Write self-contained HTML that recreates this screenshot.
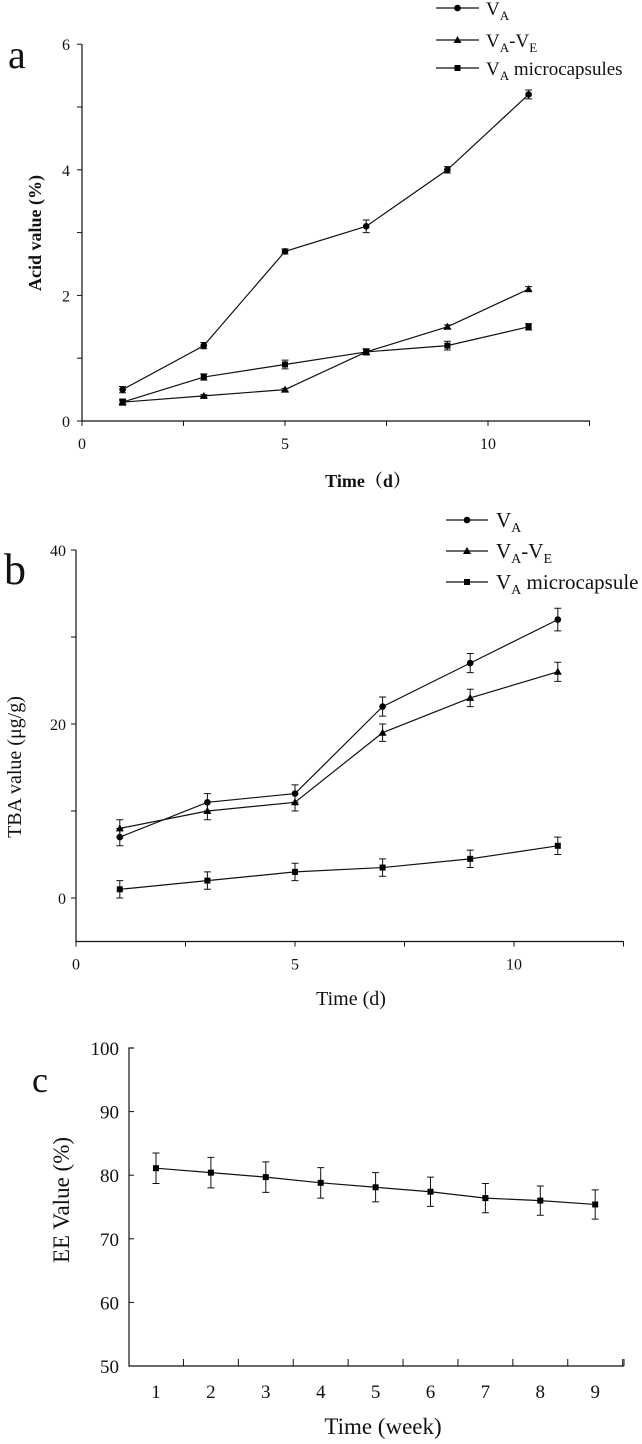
<!DOCTYPE html>
<html><head><meta charset="utf-8"><style>
html,body{margin:0;padding:0;background:#fff;}
svg{display:block;font-family:"Liberation Serif","Noto Serif CJK SC",serif;}
</style></head><body>
<svg id="chart" width="642" height="1444" viewBox="0 0 642 1444" xmlns="http://www.w3.org/2000/svg"></svg>
<script>
// Panel a data
const daysA = [1,3,5,7,9,11];
const acidVA = [0.5,1.2,2.7,3.1,4.0,5.2];
const acidVAerr = [0.05,0.05,0.04,0.1,0.05,0.07];
const acidVE = [0.3,0.4,0.5,1.1,1.5,2.1];
const acidVEerr = [0.03,0.02,0.02,0.04,0.03,0.04];
const acidMC = [0.3,0.7,0.9,1.1,1.2,1.5];
const acidMCerr = [0.05,0.05,0.07,0.05,0.07,0.05];
const acidXTicks = [0,5,10];
const acidYTicks = [0,2,4,6];
// Panel b data
const daysB = [1,3,5,7,9,11];
const tbaVA = [7,11,12,22,27,32];
const tbaVAerr = [1,1,1,1.1,1.1,1.3];
const tbaVE = [8,10,11,19,23,26];
const tbaVEerr = [1,1,1,1,1,1.1];
const tbaMC = [1,2,3,3.5,4.5,6];
const tbaMCerr = [1,1,1,1,1,1];
const tbaXTicks = [0,5,10];
const tbaYTicks = [0,20,40];
// Panel c data
const weeks = [1,2,3,4,5,6,7,8,9];
const eeVals = [81.1,80.4,79.7,78.8,78.1,77.4,76.4,76.0,75.4];
const eeErr = [2.4,2.4,2.4,2.4,2.3,2.3,2.3,2.3,2.3];
const eeYTicks = [50,60,70,80,90,100];

const svg = document.getElementById('chart');
const NS = 'http://www.w3.org/2000/svg';
function mk(tag, attrs, parent){
  const e = document.createElementNS(NS, tag);
  for (const k in attrs) e.setAttribute(k, attrs[k]);
  (parent||svg).appendChild(e);
  return e;
}
function txt(x,y,s,size,anchor,parent,extra){
  const t = mk('text',Object.assign({x:x,y:y,'font-size':size,'text-anchor':anchor||'middle',fill:'#111'},extra||{}),parent);
  t.textContent = s;
  return t;
}
function marker(type,x,y,g){
  let m;
  if(type==='circle') m = mk('circle',{cx:x,cy:y,r:3.3,fill:'#000'},g);
  else if(type==='tri') m = mk('polygon',{points:`${x},${y-4} ${x-4},${y+3} ${x+4},${y+3}`,fill:'#000'},g);
  else m = mk('rect',{x:x-3,y:y-3,width:6,height:6,fill:'#000'},g);
  return m;
}
function series(g, xs, ys, es, sx, sy, type, name){
  const sg = mk('g',{},g);
  
  
  const pts = xs.map((x,i)=>sx(x)+','+sy(ys[i])).join(' ');
  const line = mk('polyline',{points:pts,fill:'none',stroke:'#111','stroke-width':1.2},sg);
  
  
  xs.forEach((x,i)=>{
    const cx = sx(x), y1 = sy(ys[i]+es[i]), y2 = sy(ys[i]-es[i]);
    const eb = mk('path',{d:`M${cx},${y1}V${y2}M${cx-3.5},${y1}H${cx+3.5}M${cx-3.5},${y2}H${cx+3.5}`,stroke:'#111','stroke-width':1,fill:'none'},sg);
    
    
    const m = marker(type,cx,sy(ys[i]),sg);
    
    
  });
}
function legend(g, x0, x1, tx, rows, size, sub){
  rows.forEach(r=>{
    const lg = mk('g',{},g);
    
    
    mk('line',{x1:x0,x2:x1,y1:r.y,y2:r.y,stroke:'#111','stroke-width':1.2},lg);
    marker(r.type,(x0+x1)/2,r.y,lg);
    const t = mk('text',{x:tx,y:r.y+7,'font-size':size,fill:'#111'},lg);
    t.innerHTML = r.html.replace(/SUB/g, sub);
  });
}

// ---------- Panel a ----------
(function(){
  const g = mk('g',{});
  
  
  const X0=82, KX=40.6, Y0=421, KY=62.8;
  const sx=v=>X0+v*KX, sy=v=>Y0-v*KY;
  mk('path',{d:`M${X0},${sy(6)}V${Y0}H590`,stroke:'#111','stroke-width':1.2,fill:'none'},g);
  for(let v=0;v<=12.5;v+=2.5){ mk('line',{x1:sx(v),x2:sx(v),y1:Y0,y2:Y0+5,stroke:'#111'},g); }
  for(let v=0;v<=6;v+=1){ mk('line',{x1:X0-5,x2:X0,y1:sy(v),y2:sy(v),stroke:'#111'},g); }
  acidXTicks.forEach(v=>txt(sx(v),Y0+28,String(v),16,'middle',g));
  acidYTicks.forEach(v=>txt(X0-12,sy(v)+6,String(v),16,'end',g));
  const yt = txt(0,0,'Acid value (%)',18,'middle',g,{transform:'translate(41,233) rotate(-90)','font-weight':'bold'});
  
  const xt = txt(368,487,'Time（d）',18,'middle',g,{'font-weight':'bold'});
  
  txt(8,68,'a',40,'start',g);
  series(g,daysA,acidVA,acidVAerr,sx,sy,'circle','series-va');
  series(g,daysA,acidVE,acidVEerr,sx,sy,'tri','series-va-ve');
  series(g,daysA,acidMC,acidMCerr,sx,sy,'square','series-va-microcapsules');
  legend(g,436,479,486,[
    {y:8,type:'circle',html:'V<tspan font-size="SUB" dy="5">A</tspan>'},
    {y:40,type:'tri',html:'V<tspan font-size="SUB" dy="5">A</tspan><tspan dy="-5">-V</tspan><tspan font-size="SUB" dy="5">E</tspan>'},
    {y:68,type:'square',html:'V<tspan font-size="SUB" dy="5">A</tspan><tspan dy="-5"> microcapsules</tspan>'}
  ],19,13);
})();

// ---------- Panel b ----------
(function(){
  const g = mk('g',{});
  
  
  const X0=76, KX=43.8, Y0=898, KY=8.7;
  const sx=v=>X0+v*KX, sy=v=>Y0-v*KY;
  mk('path',{d:`M${X0},${sy(40)}V${sy(-5)}H624`,stroke:'#111','stroke-width':1.2,fill:'none'},g);
  for(let v=0;v<=12.5;v+=2.5){ mk('line',{x1:sx(v),x2:sx(v),y1:sy(-5),y2:sy(-5)+5,stroke:'#111'},g); }
  for(let v=0;v<=40;v+=10){ mk('line',{x1:X0-5,x2:X0,y1:sy(v),y2:sy(v),stroke:'#111'},g); }
  tbaXTicks.forEach(v=>txt(sx(v),sy(-5)+28,String(v),16,'middle',g));
  tbaYTicks.forEach(v=>txt(X0-10,sy(v)+6,String(v),16,'end',g));
  const yt = txt(0,0,'TBA value (μg/g)',20,'middle',g,{transform:'translate(21,767) rotate(-90)'});
  
  const xt = txt(351,1005,'Time (d)',20,'middle',g);
  
  txt(4,584,'b',44,'start',g);
  series(g,daysB,tbaVA,tbaVAerr,sx,sy,'circle','series-va');
  series(g,daysB,tbaVE,tbaVEerr,sx,sy,'tri','series-va-ve');
  series(g,daysB,tbaMC,tbaMCerr,sx,sy,'square','series-va-microcapsule');
  legend(g,446,488,496,[
    {y:520,type:'circle',html:'V<tspan font-size="SUB" dy="5">A</tspan>'},
    {y:551,type:'tri',html:'V<tspan font-size="SUB" dy="5">A</tspan><tspan dy="-5">-V</tspan><tspan font-size="SUB" dy="5">E</tspan>'},
    {y:582,type:'square',html:'V<tspan font-size="SUB" dy="5">A</tspan><tspan dy="-5"> microcapsule</tspan>'}
  ],21,14);
})();

// ---------- Panel c ----------
(function(){
  const g = mk('g',{});
  
  
  const XA=129, X1=156, KX=54.9, Y0=1366, KY=6.36;
  const sx=v=>X1+(v-1)*KX, sy=v=>Y0-(v-50)*KY;
  mk('path',{d:`M${XA+5},${sy(100)}H${XA}V${Y0}H624`,stroke:'#111','stroke-width':1.2,fill:'none'},g);
  for(let w=1.5;w<=9.6;w+=1){ mk('line',{x1:sx(w),x2:sx(w),y1:Y0,y2:Y0-7,stroke:'#111'},g); }
  mk('line',{x1:624,x2:624,y1:Y0,y2:Y0-7,stroke:'#111'},g);
  eeYTicks.forEach(v=>{ mk('line',{x1:XA,x2:XA+5,y1:sy(v),y2:sy(v),stroke:'#111'},g); txt(XA-10,sy(v)+7,String(v),19,'end',g); });
  weeks.forEach(w=>txt(sx(w),Y0+32,String(w),19,'middle',g));
  const yt = txt(0,0,'EE Value (%)',23,'middle',g,{transform:'translate(69,1200) rotate(-90)'});
  
  const xt = txt(383,1434,'Time (week)',23,'middle',g);
  
  txt(32,1092,'c',36,'start',g);
  series(g,weeks,eeVals,eeErr,sx,sy,'square','series-ee');
})();
</script>
</body></html>
